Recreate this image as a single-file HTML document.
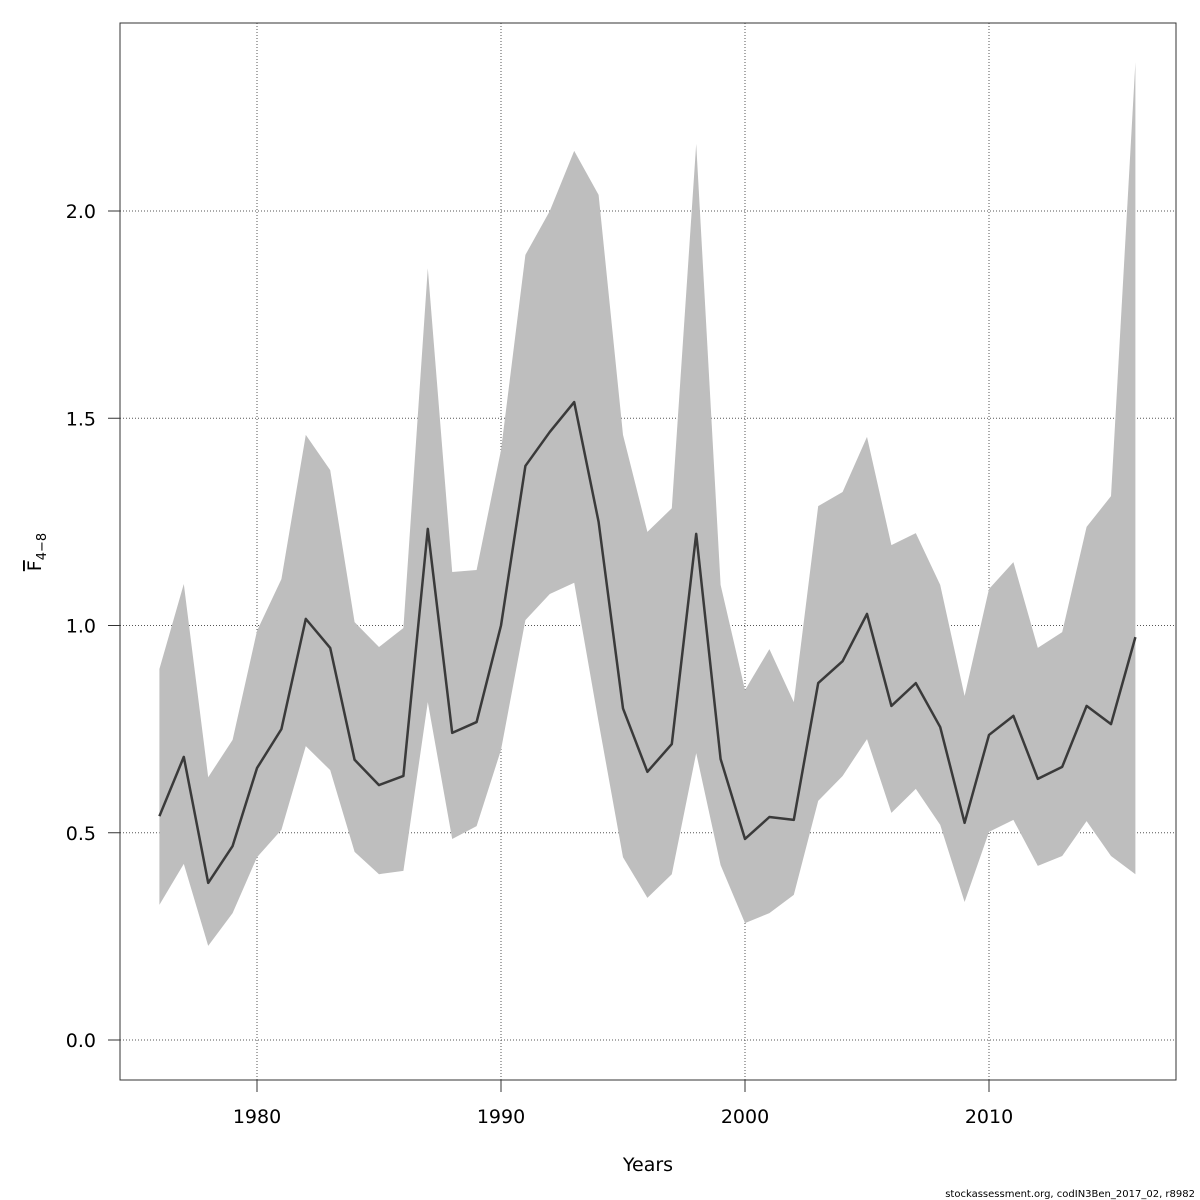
<!DOCTYPE html>
<html><head><meta charset="utf-8"><style>
html,body{margin:0;padding:0;background:#fff;}
svg{display:block;font-family:"DejaVu Sans","Liberation Sans",sans-serif;}
</style></head><body>
<svg id="chart" width="1200" height="1200" viewBox="0 0 1200 1200">
<g id="grid"></g>
<g id="band"></g>
<g id="line"></g>
<rect x="120" y="23" width="1056" height="1057" fill="none" stroke="#333" stroke-width="1"/>
<g id="xticks"></g>
<g id="yticks"></g>
<text x="648" y="1171" font-size="19" text-anchor="middle" fill="#000">Years</text>
<text transform="translate(41,552) rotate(-90)" font-size="19" text-anchor="middle" fill="#000"><tspan text-decoration="overline">F</tspan><tspan font-size="13" dy="5">4−8</tspan></text>
<text x="1195" y="1197" font-size="10" text-anchor="end" fill="#000">stockassessment.org, codIN3Ben_2017_02, r8982</text>
</svg>
<script>
const years=[];for(let y=1976;y<=2016;y++)years.push(y);
const meanF=[0.54,0.683,0.379,0.468,0.656,0.75,1.016,0.946,0.676,0.615,0.637,1.233,0.741,0.767,1.0,1.385,1.467,1.539,1.25,0.80,0.647,0.714,1.221,0.678,0.485,0.538,0.531,0.861,0.914,1.028,0.806,0.861,0.755,0.524,0.736,0.782,0.630,0.659,0.806,0.762,0.972];
const upperF=[0.895,1.10,0.634,0.724,0.987,1.112,1.46,1.375,1.008,0.948,0.994,1.862,1.129,1.134,1.423,1.894,2.0,2.145,2.039,1.46,1.226,1.283,2.162,1.098,0.844,0.943,0.815,1.288,1.322,1.455,1.194,1.223,1.098,0.83,1.088,1.153,0.946,0.984,1.238,1.312,2.359];
const lowerF=[0.326,0.425,0.227,0.306,0.441,0.507,0.709,0.651,0.454,0.40,0.408,0.815,0.485,0.516,0.70,1.013,1.076,1.103,0.767,0.441,0.343,0.40,0.692,0.422,0.282,0.306,0.35,0.577,0.637,0.726,0.548,0.606,0.519,0.333,0.502,0.531,0.42,0.444,0.528,0.444,0.40];
const xTicks=[1980,1990,2000,2010];
const yTicks=[0.0,0.5,1.0,1.5,2.0];
const yTickLabels=["0.0","0.5","1.0","1.5","2.0"];
const X=v=>257+(v-1980)*24.4;
const Y=v=>1040-v*414.5;
const NS="http://www.w3.org/2000/svg";
function mk(tag,attrs,parent){const e=document.createElementNS(NS,tag);for(const k in attrs)e.setAttribute(k,attrs[k]);parent.appendChild(e);return e;}
const grid=document.getElementById('grid'),xt=document.getElementById('xticks'),yt=document.getElementById('yticks');
xTicks.forEach(t=>{
 const g=mk('line',{x1:X(t),x2:X(t),y1:23,y2:1080,stroke:'#555','stroke-dasharray':'1,2'},grid);
 
 
 const tk=mk('line',{x1:X(t),x2:X(t),y1:1080,y2:1092,stroke:'#333'},xt);
 
 
 const l=mk('text',{x:X(t),y:1123,'font-size':19,'text-anchor':'middle'},xt);l.textContent=t;
 
 
});
yTicks.forEach((t,i)=>{
 const g=mk('line',{x1:120,x2:1176,y1:Y(t),y2:Y(t),stroke:'#555','stroke-dasharray':'1,2'},grid);
 
 
 const tk=mk('line',{x1:108,x2:120,y1:Y(t),y2:Y(t),stroke:'#333'},yt);
 
 
 const l=mk('text',{x:96,y:Y(t)+7,'font-size':19,'text-anchor':'end'},yt);l.textContent=yTickLabels[i];
 
 
});
let pts=years.map((y,i)=>X(y)+','+Y(upperF[i]));
for(let i=years.length-1;i>=0;i--)pts.push(X(years[i])+','+Y(lowerF[i]));
const poly=mk('polygon',{points:pts.join(' '),fill:'#bebebe',stroke:'none'},document.getElementById('band'));


const pl=mk('polyline',{points:years.map((y,i)=>X(y)+','+Y(meanF[i])).join(' '),fill:'none',stroke:'#3a3a3a','stroke-width':2.5,'stroke-linejoin':'round'},document.getElementById('line'));


</script>
</body></html>
